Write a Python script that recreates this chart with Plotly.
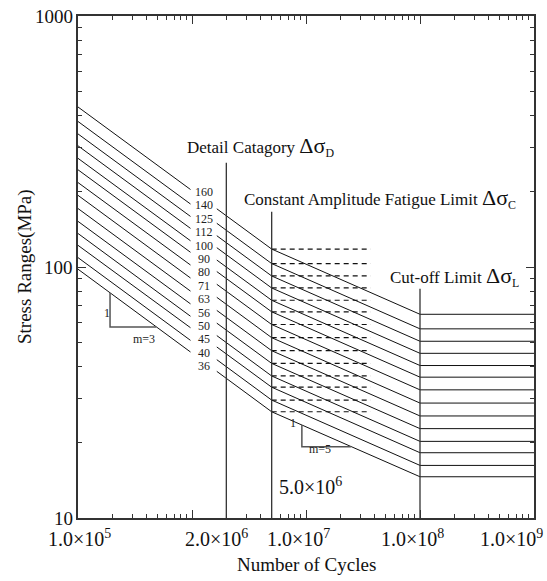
import plotly.graph_objects as go
import numpy as np

# ---------------- data ----------------
categories = [160, 140, 125, 112, 100, 90, 80, 71, 63, 56, 50, 45, 40, 36]          # delta sigma_C at 2e6
stress_at_1e5 = [434, 380, 339, 304, 271, 244, 217, 193, 171, 152, 136, 122, 109, 98]
delta_sigma_D = [117.9, 103.2, 92.1, 82.5, 73.7, 66.3, 59.0, 52.3, 46.4, 41.3, 36.8, 33.2, 29.5, 26.5]  # at 5e6
delta_sigma_L = [64.8, 56.7, 50.6, 45.3, 40.5, 36.4, 32.4, 28.7, 25.5, 22.7, 20.2, 18.2, 16.2, 14.6]   # at 1e8
cycles_break = [1e5, 2e6, 5e6, 1e8, 1e9]
dashed_end_N = 3.7e7

ref_lines_N = [2e6, 5e6, 1e8]
ref_lines_top = [260, 166, 82]

x_tick_vals = [1e5, 2e6, 1e7, 1e8, 1e9]
x_tick_text = ["1.0×10<sup>5</sup>", "2.0×10<sup>6</sup>", "1.0×10<sup>7</sup>",
               "1.0×10<sup>8</sup>", "1.0×10<sup>9</sup>"]
y_tick_vals = [10, 100, 1000]
y_tick_text = ["10", "100", "1000"]

# slope triangles (N range along lowest curve)
tri_m3_N = [1.91e5, 4.85e5]
tri_m5_N = [9.2e6, 2.48e7]

FONT = "Liberation Serif"
W, H = 547, 581
L, R, T, B = 78, 13, 16, 63
PW, PH = W - L - R, H - T - B


def xp(px):
    return (px - L) / PW


def yp(py):
    return (H - B - py) / PH


fig = go.Figure()

# S-N curves
for c, s0, sd, sl in zip(categories, stress_at_1e5, delta_sigma_D, delta_sigma_L):
    fig.add_trace(go.Scatter(
        x=cycles_break, y=[s0, c, sd, sl, sl], mode="lines",
        line=dict(color="#111", width=1), showlegend=False, hoverinfo="skip"))
    fig.add_trace(go.Scatter(
        x=[cycles_break[2], dashed_end_N], y=[sd, sd], mode="lines",
        line=dict(color="#111", width=1.2, dash="5px,4px"), showlegend=False, hoverinfo="skip"))

# reference vertical lines
for n, top in zip(ref_lines_N, ref_lines_top):
    fig.add_trace(go.Scatter(x=[n, n], y=[10, top], mode="lines",
                             line=dict(color="#333", width=1.3), showlegend=False, hoverinfo="skip"))


def curve36(n):
    c, sd = categories[-1], delta_sigma_D[-1]
    if n <= 5e6:
        return c * (2e6 / n) ** (1 / 3)
    return sd * (5e6 / n) ** (1 / 5)


for tri in (tri_m3_N, tri_m5_N):
    a, b = tri
    fig.add_trace(go.Scatter(x=[a, a, b], y=[curve36(a), curve36(b), curve36(b)], mode="lines",
                             line=dict(color="#555", width=1.5), showlegend=False, hoverinfo="skip"))

# white mask where category labels sit
fig.add_shape(type="rect", xref="x", yref="y", x0=9.7e5, x1=1.65e6, y0=36, y1=225,
              fillcolor="white", line=dict(width=0), layer="above")

ann = []
# category labels
for i, c in enumerate(categories):
    ann.append(dict(text=str(c), xref="paper", yref="paper", x=xp(203.5), y=yp(192 + i * 13.4),
                    showarrow=False, font=dict(family=FONT, size=12, color="#222"),
                    xanchor="center", yanchor="middle"))

ann.append(dict(text="Detail Catagory <span style='font-size:22px'>Δσ</span><sub>D</sub>",
                xref="paper", yref="paper", x=xp(185), y=yp(146), showarrow=False,
                xanchor="left", yanchor="middle", font=dict(family=FONT, size=17, color="#111")))
ann.append(dict(text="Constant Amplitude Fatigue Limit <span style='font-size:22px'>Δσ</span><sub>C</sub>",
                xref="paper", yref="paper", x=xp(242), y=yp(198), showarrow=False,
                xanchor="left", yanchor="middle", font=dict(family=FONT, size=17, color="#111")))
ann.append(dict(text="Cut-off Limit <span style='font-size:22px'>Δσ</span><sub>L</sub>",
                xref="paper", yref="paper", x=xp(388), y=yp(276), showarrow=False,
                xanchor="left", yanchor="middle", font=dict(family=FONT, size=17, color="#111")))
ann.append(dict(text="5.0×10<sup>6</sup>", xref="paper", yref="paper", x=xp(277), y=yp(486),
                showarrow=False, xanchor="left", yanchor="middle",
                font=dict(family=FONT, size=20, color="#111")))

# slope labels
ann.append(dict(text="1", xref="paper", yref="paper", x=xp(102), y=yp(313), showarrow=False,
                font=dict(family=FONT, size=12, color="#222")))
ann.append(dict(text="m=3", xref="paper", yref="paper", x=xp(131), y=yp(339), showarrow=False,
                font=dict(family=FONT, size=12, color="#222")))
ann.append(dict(text="1", xref="paper", yref="paper", x=xp(293), y=yp(432), showarrow=False,
                font=dict(family=FONT, size=12, color="#222")))
ann.append(dict(text="m=5", xref="paper", yref="paper", x=xp(320), y=yp(458), showarrow=False,
                font=dict(family=FONT, size=12, color="#222")))

# x tick labels
x_shifts = [1, -10, -8, -8, -23]
for v, t, s in zip(x_tick_vals, x_tick_text, x_shifts):
    ann.append(dict(text=t, xref="x", yref="paper", x=np.log10(v), y=yp(538), xshift=s,
                    showarrow=False, xanchor="center", yanchor="middle",
                    font=dict(family=FONT, size=20, color="#111")))

# y tick labels
for v, t in zip(y_tick_vals, y_tick_text):
    ann.append(dict(text=t, xref="paper", yref="y", x=xp(74.5), y=np.log10(v),
                    showarrow=False, xanchor="right", yanchor="middle",
                    font=dict(family=FONT, size=19, color="#111")))

# axis titles
ann.append(dict(text="Number of Cycles", xref="paper", yref="paper", x=xp(306), y=yp(564),
                showarrow=False, xanchor="center", yanchor="middle",
                font=dict(family=FONT, size=19, color="#111")))
ann.append(dict(text="Stress Ranges(MPa)", xref="paper", yref="paper", x=xp(25), y=yp(267),
                showarrow=False, xanchor="center", yanchor="middle", textangle=-90,
                font=dict(family=FONT, size=19, color="#111")))

x_minor = [m * 10 ** d for d in range(5, 9) for m in range(2, 10)]
y_minor = [m * 10 ** d for d in range(1, 3) for m in range(2, 10)]

fig.update_layout(
    width=W, height=H, margin=dict(l=L, r=R, t=T, b=B),
    paper_bgcolor="white", plot_bgcolor="white",
    annotations=ann,
    xaxis=dict(type="log", range=[5, 9], showgrid=False, zeroline=False,
               tickmode="array", tickvals=[1e5, 1e6, 1e7, 1e8, 1e9], showticklabels=False,
               ticks="inside", ticklen=8, tickwidth=1.3, tickcolor="#333",
               minor=dict(tickmode="array", tickvals=x_minor, ticks="inside", ticklen=4,
                          tickwidth=1, tickcolor="#333", showgrid=False),
               showline=True, linecolor="#333", linewidth=2, mirror="allticks"),
    yaxis=dict(type="log", range=[1, 3], showgrid=False, zeroline=False,
               tickmode="array", tickvals=y_tick_vals, showticklabels=False,
               ticks="inside", ticklen=8, tickwidth=1.3, tickcolor="#333",
               minor=dict(tickmode="array", tickvals=y_minor, ticks="inside", ticklen=4,
                          tickwidth=1, tickcolor="#333", showgrid=False),
               showline=True, linecolor="#333", linewidth=2, mirror="allticks"),
)

fig.write_html("out.html")
